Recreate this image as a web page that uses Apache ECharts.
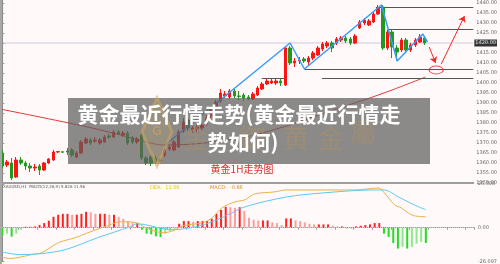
<!DOCTYPE html>
<html>
<head>
<meta charset="utf-8">
<script src="https://cdn.jsdelivr.net/npm/echarts@6/dist/echarts.min.js"></script>
<style>
  html, body { margin: 0; padding: 0; background: #fffaf9; }
  #chart { width: 500px; height: 264px; }
</style>
</head>
<body>
<div id="chart"></div>
<script>
// gold 1H candles: [open, close, low, high]
const candles = [
  [1365,1358.5,1357.5,1366.5],[1359,1360.5,1358,1361.5],[1360,1352.5,1351.5,1362.5],[1353,1361.5,1352.5,1363],
  [1361.5,1360,1359,1363],[1360,1358.5,1356.5,1361],[1358.5,1357.5,1355.5,1360],[1357.5,1358,1356,1359.5],
  [1358.5,1356.5,1354,1359.5],[1356.5,1360,1356,1360.5],[1360,1362,1359.5,1362.5],[1361.5,1365.5,1361,1366.5],
  [1365.5,1365.7,1365,1366],[1365.6,1365.4,1365,1366],[1366,1365.5,1364,1367.5],[1366.5,1364,1363,1367.5],
  [1363,1365,1362.5,1366],[1365,1370.5,1364.5,1371.5],[1370,1372,1369.5,1373],[1371.5,1370,1369,1372.5],
  [1371,1371.5,1370,1373],[1370,1371.5,1369,1372.5],[1370.5,1373,1370,1374],[1373.5,1373,1372,1374.5],
  [1373,1375.5,1372.5,1376.5],[1375.5,1374.5,1374,1376.5],[1374,1375,1373,1376],[1375,1370,1369,1376],
  [1372.5,1370.5,1369.5,1373.5],[1370.5,1372,1369.5,1373],[1374,1362.5,1361.5,1375],[1362.5,1360,1359,1363.5],
  [1363,1360,1358.5,1364],[1362.5,1360.5,1359.5,1363.5],[1361.25,1361.5,1360.5,1362.5],[1364,1366.5,1363,1367.5],
  [1367,1368,1366,1369],[1366.5,1370.5,1366,1371.5],[1368,1375.5,1367.5,1376.5],[1376,1380.5,1375,1382.5],
  [1381.5,1377.5,1376,1383],[1376.5,1377.5,1375,1378.5],[1377,1378,1375.5,1379],[1377.5,1379,1376.5,1380.5],
  [1379.5,1382.5,1378.5,1384],[1383.5,1386.5,1382.5,1387.5],[1387.5,1390.5,1386,1391.5],[1391,1395,1390,1397],
  [1393.5,1394.5,1392.5,1396],[1393,1396,1392,1397],[1396,1393.5,1392.5,1397],[1393.5,1393.3,1391.5,1396],
  [1394,1392.5,1391,1395],[1393,1392,1391.5,1394],[1392,1394.5,1391.5,1395.5],[1394,1397.5,1393.5,1398.5],
  [1397,1399.5,1396.5,1400.5],[1399.5,1401,1399,1402],[1400,1401,1399.5,1402],[1400,1401,1399,1402],
  [1401,1400,1398.5,1402],[1399,1417.5,1398.5,1418],[1417.5,1410,1409,1418.5],[1410,1411,1408,1412.5],
  [1411,1411.5,1409.5,1413],[1412,1411,1410,1413],[1410.5,1412.5,1409,1413.5],[1412.5,1415,1411.5,1416],
  [1414,1417.5,1413.5,1418.5],[1417,1419.5,1416,1420.5],[1418.5,1420,1417.5,1421],[1420,1417.5,1415.5,1421],
  [1420,1422,1419,1423],[1421.5,1422.5,1420.5,1423.5],[1422.5,1421,1420,1423.5],[1422,1420,1419,1423],
  [1420,1423.5,1419.5,1424.5],[1427.5,1430.5,1427,1431.5],[1430,1431.5,1429,1432.5],[1429,1431,1428.5,1432],
  [1430.5,1434.5,1430,1435.5],[1434.5,1437.5,1434,1439],[1438,1417.5,1416.5,1439],[1417.5,1425.5,1416.5,1426.5],
  [1425.5,1418,1412.5,1426.5],[1417.5,1415.5,1411,1419],[1416.5,1421.5,1415.5,1422.5],[1421.5,1416.5,1415.5,1422.5],
  [1416.5,1419,1415.5,1420],[1419,1421.5,1418,1422.5],[1420.5,1423,1420,1424.5],[1422.5,1420,1419,1423.5]
];
const emptySlots = 10; // blank bars on the right for the drawn forecast

// moving average (red), read at a few points: [bar index, price]
const maLine = [[-0.5,1387],[18.4,1378],[28.9,1372],[34.6,1369],[43.7,1370],[54.2,1374],
  [62.6,1379.5],[70,1385.5],[77.9,1391.5],[84,1396.5],[91.2,1403]];
// blue wave line
const waveLine = [[34.8,1368.5],[62,1420],[65.1,1407],[81.7,1439],[85.1,1411],[90.6,1424.5],[91.6,1420.5]];
// support / resistance segments: [from index, to index, price]
const levels = [[55.9,60.9,1402.5],[68.9,101.5,1402.5],[65.1,101.5,1407],[83,101.5,1427],[80.5,101.5,1438]];
// red forecast arrows and target circle
const arrowPaths = [[[92.0,1418],[93.35,1410]],[[94.6,1409.5],[99.6,1433.5]]];
const targetMark = [93.5,1406.5];

// MACD panel
const macdHist = [-4.8,-3.6,-5.4,-3.6,-1.2,0.6,0.6,0.8,1.6,2.8,
  4.2,6.6,7.8,8.4,8.4,7.8,7.8,8.4,9.6,9.3,
  8.4,8.4,8.4,7.8,7.8,6.6,5.4,4.0,2.8,2.8,
  -1.2,-3.6,-4.0,-5.2,-5.6,-3.6,-2.0,-0.6,2.4,4.0,
  4.0,3.6,4.0,4.0,4.0,5.4,8.4,10.8,12.6,12.4,
  12.0,12.4,10.2,6.0,4.8,4.4,4.4,4.4,3.2,2.8,
  1.6,5.6,5.6,4.4,4.0,3.2,2.4,2.0,2.0,2.0,
  2.0,1.2,0.8,0.8,-0.4,-0.4,0.8,1.2,1.6,2.0,
  2.8,2.8,-3.6,-5.6,-9.2,-12.6,-11.6,-12.6,-11.6,-9.6,-8.6,-9.2];
const difLine = [[-0.5,-17.4],[1.6,-18.6],[6.4,-16.2],[8.5,-15],[12.1,-9],[15.7,-6],[18.4,-3],[22.6,1.2],
  [25.4,3.6],[28.9,3],[30.4,0.6],[33.1,-2.4],[34.6,-3],[36.7,-1.8],[38.8,1.2],[43,3],[45.1,6],[47.2,12],
  [50,15.6],[52.1,16.8],[54.2,20.4],[58.4,21.6],[61.1,22.8],[68.9,22.8],[75.8,22.8],[80.9,24],[82.1,21],
  [84.3,13.8],[85.7,12],[87.2,9],[88.5,7.2],[91,6.6]];
const deaLine = [[-0.5,-14.4],[3.7,-16.2],[8.5,-15.6],[13.6,-13.2],[20.5,-6],[27.5,0.6],[28.9,2.4],[34.6,-0.6],
  [36.7,-1.2],[41.6,0.6],[45.1,3.6],[48.5,7.8],[52.1,12.6],[61.1,18.6],[68.9,21],[79.4,22.8],[82.1,22.8],
  [85.1,18.6],[88.5,13.8],[91,10.8]];
const macdTicks = [26.4, 0, -20.4];
const macdTickText = ['26.398', '0.00', '-26.097'];

const categories = candles.concat(new Array(emptySlots).fill(null)).map((_, i) => String(i));
const candleData = candles.concat(new Array(emptySlots).fill('-'));
const lastClose = candles[candles.length - 1][1];
const xMax = categories.length - 0.5;

const histData = macdHist.map((v, i) => {
    const prev = i > 0 ? macdHist[i - 1] : v;
    let c;
    if (v >= 0) c = v >= prev ? '#ff2020' : '#ff9c9c';
    else c = v <= prev ? '#22dd22' : '#8fe88f';
    return {value: v, itemStyle: {color: c}};
});

const cjk = '"Noto Sans CJK SC", sans-serif';
let myChart = echarts.init(document.getElementById('chart'));
myChart.setOption({
    backgroundColor: '#fffaf9',
    animation: false,
    grid: [
        {left: 0, right: 15, top: 0, height: 183},
        {left: 0, right: 15, top: 184, height: 78}
    ],
    xAxis: [
        {type: 'category', gridIndex: 0, data: categories, boundaryGap: true,
         axisLine: {lineStyle: {color: '#9d9d9d', width: 2}}, axisTick: {show: false}, axisLabel: {show: false}},
        {type: 'value', gridIndex: 0, min: -0.5, max: xMax, show: false},
        {type: 'category', gridIndex: 1, data: categories, boundaryGap: true,
         axisLine: {lineStyle: {color: '#9d9d9d', width: 1}},
         axisTick: {show: true, interval: 3, length: 2, lineStyle: {color: '#999'}}, axisLabel: {show: false}},
        {type: 'value', gridIndex: 1, min: -0.5, max: xMax, show: false}
    ],
    yAxis: [
        {type: 'value', gridIndex: 0, position: 'right', min: 1350, max: 1441.5, interval: 5,
         axisLine: {show: true, lineStyle: {color: '#8a8a8a'}},
         axisTick: {show: true, length: 2, lineStyle: {color: '#999'}},
         splitLine: {show: false},
         axisLabel: {fontSize: 5, color: '#666', margin: 3, showMaxLabel: false,
                     fontFamily: 'DejaVu Sans', formatter: v => v.toFixed(2)}},
        {type: 'value', gridIndex: 1, position: 'right', min: -20.4, max: 26.4,
         axisLine: {show: true, lineStyle: {color: '#8a8a8a'}},
         axisTick: {show: true, length: 2, customValues: macdTicks, lineStyle: {color: '#999'}},
         splitLine: {show: false},
         axisLabel: {fontSize: 5, color: '#666', margin: 3, fontFamily: 'DejaVu Sans',
                     customValues: macdTicks,
                     formatter: v => macdTickText[macdTicks.indexOf(v)] || ''}}
    ],
    series: [
        {
            name: '均线', type: 'line', xAxisIndex: 1, yAxisIndex: 0, data: maLine,
            smooth: 0.3, showSymbol: false, silent: true, z: 1,
            lineStyle: {color: '#e23a3a', width: 1}
        },
        {
            name: '黄金', type: 'candlestick', xAxisIndex: 0, yAxisIndex: 0, data: candleData,
            barWidth: 3, z: 3,
            itemStyle: {color: '#ff1414', color0: '#1f9a1f', borderColor: '#ff1414', borderColor0: '#1f9a1f', borderWidth: 1},
            markLine: {
                silent: true, symbol: 'none', z: 0,
                lineStyle: {color: '#e6e1ea', width: 2, type: 'solid'},
                label: {position: 'end', distance: 1, formatter: lastClose.toFixed(2), fontSize: 5,
                        color: '#fff', backgroundColor: '#333', padding: [1, 1], fontFamily: 'DejaVu Sans'},
                data: [{yAxis: lastClose}]
            }
        },
        {
            name: '支撑阻力', type: 'lines', coordinateSystem: 'cartesian2d', xAxisIndex: 1, yAxisIndex: 0,
            silent: true, z: 2, symbol: 'none',
            lineStyle: {color: '#555', width: 1, opacity: 1},
            data: levels.map(s => ({coords: [[s[0], s[2]], [s[1], s[2]]]}))
        },
        {
            name: '波浪', type: 'line', xAxisIndex: 1, yAxisIndex: 0, data: waveLine,
            showSymbol: false, silent: true, z: 4,
            lineStyle: {color: '#3a9cff', width: 1.5}
        },
        {
            name: '预测', type: 'lines', coordinateSystem: 'cartesian2d', xAxisIndex: 1, yAxisIndex: 0,
            silent: true, z: 4, symbol: ['none', 'arrow'], symbolSize: 6,
            lineStyle: {color: '#f02828', width: 1, opacity: 1},
            data: arrowPaths.map(p => ({coords: p}))
        },
        {
            name: '目标', type: 'scatter', xAxisIndex: 1, yAxisIndex: 0, data: [targetMark],
            symbol: 'circle', symbolSize: [14, 8], silent: true, z: 4,
            itemStyle: {color: 'rgba(0,0,0,0)', borderColor: '#f02828', borderWidth: 1}
        },
        {
            name: 'MACD', type: 'bar', xAxisIndex: 2, yAxisIndex: 1, data: histData, barWidth: 2,
            silent: true,
            markLine: {
                silent: true, symbol: 'none', label: {show: false},
                lineStyle: {color: '#c8c8c8', width: 1, type: 'dotted'},
                data: [{yAxis: 0}]
            }
        },
        {
            name: 'DIF', type: 'line', xAxisIndex: 3, yAxisIndex: 1, data: difLine,
            smooth: 0.3, showSymbol: false, silent: true,
            lineStyle: {color: '#e8b04c', width: 1}
        },
        {
            name: 'DEA', type: 'line', xAxisIndex: 3, yAxisIndex: 1, data: deaLine,
            smooth: 0.3, showSymbol: false, silent: true,
            lineStyle: {color: '#5cc8f4', width: 1}
        }
    ],
    graphic: [
        {type: 'line', shape: {x1: 1, y1: 0, x2: 1, y2: 264}, style: {stroke: '#a8a8a8', lineWidth: 2}, z: 50},
        {type: 'text', x: 3, y: 185, z: 50,
         style: {text: 'XAUUSD,H1  MACD(12,26,9) 5.826 11.56', fill: '#555', fontSize: 4, fontFamily: 'DejaVu Sans'}},
        {type: 'text', x: 150, y: 185, z: 50,
         style: {text: 'DEA:  11.56', fill: '#e6c400', fontSize: 5, fontFamily: 'DejaVu Sans'}},
        {type: 'text', x: 210, y: 185, z: 50,
         style: {text: 'MACD:  -0.86', fill: '#e08a2a', fontSize: 5, fontFamily: 'DejaVu Sans'}},
        // title overlay
        {type: 'rect', shape: {x: 68, y: 98, width: 362, height: 66}, style: {fill: 'rgba(96,94,92,0.72)'}, z: 100},
        {type: 'polygon', shape: {points: [[157, 98], [172, 132], [157, 166], [142, 132]]}, z: 101,
         style: {fill: 'rgba(205,165,95,0.18)', stroke: 'rgba(205,165,95,0.55)', lineWidth: 3}},
        {type: 'text', x: 157, y: 132, z: 101,
         style: {text: 'G', fill: 'rgba(205,165,95,0.6)', fontSize: 12, fontWeight: 'bold', align: 'center', verticalAlign: 'middle'}},
        {type: 'text', x: 196, y: 138, z: 101, style: {text: '金', fill: 'rgba(175,145,100,0.45)', fontSize: 26, fontFamily: cjk, align: 'center', verticalAlign: 'middle'}},
        {type: 'text', x: 252, y: 138, z: 101, style: {text: '御', fill: 'rgba(175,145,100,0.45)', fontSize: 26, fontFamily: cjk, align: 'center', verticalAlign: 'middle'}},
        {type: 'text', x: 296, y: 138, z: 101, style: {text: '黄', fill: 'rgba(175,145,100,0.45)', fontSize: 26, fontFamily: cjk, align: 'center', verticalAlign: 'middle'}},
        {type: 'text', x: 331, y: 138, z: 101, style: {text: '金', fill: 'rgba(175,145,100,0.45)', fontSize: 26, fontFamily: cjk, align: 'center', verticalAlign: 'middle'}},
        {type: 'text', x: 363, y: 132, z: 101, style: {text: '屬', fill: 'rgba(175,145,100,0.45)', fontSize: 26, fontFamily: cjk, align: 'center', verticalAlign: 'middle'}},
        {type: 'text', x: 239, y: 114, z: 102,
         style: {text: '黄金最近行情走势(黄金最近行情走', fill: '#fff', fontSize: 21, fontWeight: 'bold', fontFamily: cjk, align: 'center', verticalAlign: 'middle'}},
        {type: 'text', x: 243, y: 142, z: 102,
         style: {text: '势如何)', fill: '#fff', fontSize: 21, fontWeight: 'bold', fontFamily: cjk, align: 'center', verticalAlign: 'middle'}},
        {type: 'text', x: 242, y: 169, z: 102,
         style: {text: '黄金1H走势图', fill: '#e03030', fontSize: 10, fontFamily: cjk, align: 'center', verticalAlign: 'middle'}}
    ]
});
</script>
</body>
</html>
